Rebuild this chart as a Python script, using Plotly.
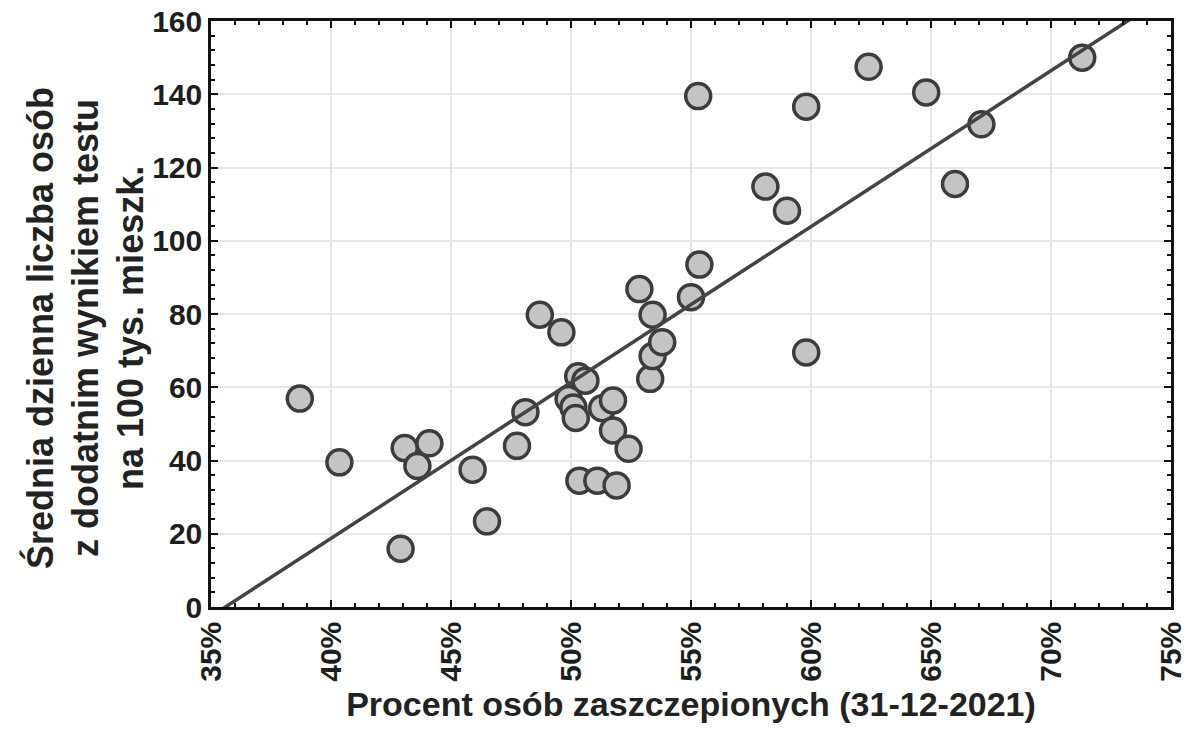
import numpy as np
import plotly.graph_objects as go

# Procent osób zaszczepionych (%)
vacc_pct = [38.7, 40.35, 42.9, 43.07, 43.6, 44.1, 45.9, 46.5, 47.75, 48.1,
            48.7, 49.6, 49.9, 50.1, 50.2, 50.3, 50.6, 50.35, 51.1, 51.9,
            51.3, 51.75, 51.75, 52.4, 52.85, 53.3, 53.4, 53.8, 53.4, 55.0,
            55.35, 55.3, 58.1, 59.0, 59.8, 59.8, 62.4, 64.8, 66.0, 67.1, 71.3]
# Średnia dzienna liczba osób z dodatnim wynikiem testu na 100 tys. mieszk.
cases = [56.9, 39.5, 15.9, 43.4, 38.5, 44.7, 37.5, 23.4, 44.0, 53.2,
         79.8, 75.0, 56.8, 54.5, 51.6, 63.0, 61.8, 34.5, 34.5, 33.2,
         54.3, 56.4, 48.2, 43.2, 86.8, 62.3, 68.5, 72.3, 79.8, 84.6,
         93.5, 139.5, 114.8, 108.2, 136.6, 69.5, 147.5, 140.5, 115.5, 131.8, 150.0]

x_ticks = [35, 40, 45, 50, 55, 60, 65, 70, 75]
x_tick_labels = [f"{v}%" for v in x_ticks]
y_ticks = [0, 20, 40, 60, 80, 100, 120, 140, 160]
y_title_lines = ["Średnia dzienna liczba osób", "z dodatnim wynikiem testu", "na 100 tys. mieszk."]
x_title = "Procent osób zaszczepionych (31-12-2021)"

slope, intercept = np.polyfit(vacc_pct, cases, 1)
fit_x = np.array([35.0, 75.0])
fit_y = slope * fit_x + intercept

FONT = "Liberation Sans"

fig = go.Figure()
fig.add_trace(go.Scatter(
    x=vacc_pct, y=cases, mode="markers",
    marker=dict(size=25, color="#c4c4c4", line=dict(color="#3c3c3c", width=3.5)),
    showlegend=False, hoverinfo="x+y"))
fig.add_trace(go.Scatter(
    x=fit_x, y=fit_y, mode="lines",
    line=dict(color="#444444", width=3.5), showlegend=False, hoverinfo="skip"))

axis_common = dict(
    showline=True, linecolor="#111111", linewidth=2.5, mirror="allticks",
    ticks="inside", ticklen=7, tickwidth=2, tickcolor="#111111",
    showgrid=True, gridcolor="#e6e6e6", gridwidth=1.5, zeroline=False,
    automargin=False,
    tickfont=dict(family=FONT, size=30, color="#1e1e1e", weight="bold"),
)

fig.update_xaxes(
    range=[35, 75], tickvals=x_ticks, ticktext=x_tick_labels, tickangle=-90,
    minor=dict(dtick=1, ticks="inside", ticklen=4, tickwidth=1.5, tickcolor="#111111", showgrid=False),
    title=dict(text=x_title,
               font=dict(family=FONT, size=34, color="#222222", weight="bold"), standoff=12),
    **axis_common)
fig.update_yaxes(
    range=[0, 160], tickvals=y_ticks,
    minor=dict(dtick=4, ticks="inside", ticklen=4, tickwidth=1.5, tickcolor="#111111", showgrid=False),
    **axis_common)

plot_left, plot_w = 211, 960
plot_bottom, plot_h = 607, 586
for line_txt, px in zip(y_title_lines, [40, 85, 130]):
    fig.add_annotation(
        text=line_txt, textangle=-90, xref="paper", yref="paper",
        x=(px - plot_left) / plot_w, y=(plot_bottom - 328) / plot_h,
        xanchor="center", yanchor="middle", showarrow=False,
        font=dict(family=FONT, size=36, color="#222222", weight="bold"))

fig.update_layout(
    width=1192, height=738,
    margin=dict(l=211, r=21, t=21, b=131, autoexpand=False),
    plot_bgcolor="white", paper_bgcolor="white",
    font=dict(family=FONT, color="#222222"),
)

fig.write_html("out.html")
